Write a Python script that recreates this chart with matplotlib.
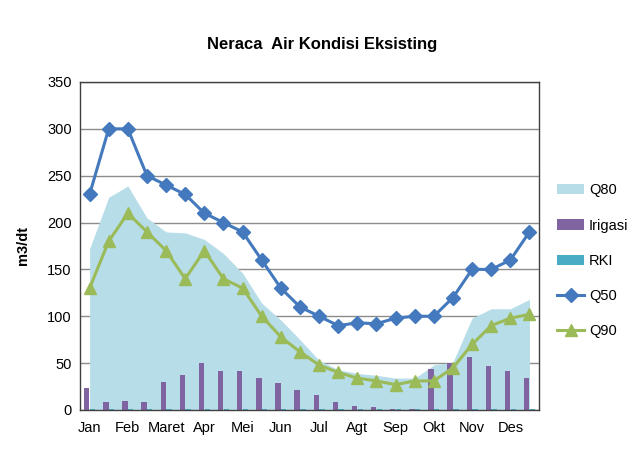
import matplotlib.pyplot as plt
import numpy as np

plt.rcParams['font.family'] = ['Liberation Sans Narrow', 'Liberation Sans', 'DejaVu Sans']

months = ["Jan", "Feb", "Maret", "Apr", "Mei", "Jun", "Jul", "Agt", "Sep", "Okt", "Nov", "Des"]

# half-monthly values (m3/dt)
q50 = [230, 300, 300, 250, 240, 230, 210, 200, 190, 160, 130, 110,
       100, 90, 93, 92, 98, 100, 100, 120, 150, 150, 160, 190]
q90 = [130, 180, 210, 190, 170, 140, 170, 140, 130, 100, 78, 62,
       48, 40, 34, 31, 27, 31, 31, 45, 70, 90, 98, 102]
q80 = [172, 227, 239, 205, 190, 189, 182, 167, 146, 114, 96, 75,
       53, 43, 39, 37, 34, 34, 48, 51, 98, 108, 108, 118]
irigasi = [23, 8, 10, 8, 30, 37, 50, 42, 42, 34, 29, 21,
           16, 9, 4, 3, 1, 1, 44, 50, 57, 47, 42, 34]
rki = [1.5] * 24

x = np.arange(len(q50))

fig = plt.figure(figsize=(6.32, 4.59), dpi=100)
ax = fig.add_axes([0.1266, 0.1068, 0.7263, 0.7146])

h80 = ax.fill_between(x, q80, color='#B7DDE8', lw=0, label='Q80', zorder=1)
hir = ax.bar(x - 0.15, irigasi, width=0.28, color='#8064A2', label='Irigasi', zorder=2)
hrk = ax.bar(x + 0.15, rki, width=0.28, color='#4BACC6', label='RKI', zorder=2)
h50, = ax.plot(x, q50, color='#4479BD', lw=2.2, marker='D', ms=7, label='Q50', zorder=4)
h90, = ax.plot(x, q90, color='#9BBB59', lw=2.2, marker='^', ms=8, label='Q90', zorder=3)

ax.set_xlim(-0.5, 23.5)
ax.set_ylim(0, 350)
ax.set_yticks(range(0, 351, 50))
ax.set_xticks(x[::2])
ax.set_xticklabels(months, fontsize=10.5)
ax.tick_params(axis='y', labelsize=10.5, length=0, pad=6)
ax.tick_params(axis='x', length=0, pad=8)
ax.yaxis.grid(True, color='#8C8C8C', lw=1, zorder=0)
ax.set_axisbelow(True)
for s in ax.spines.values():
    s.set_color('#404040')
    s.set_linewidth(1)

ax.set_ylabel('m3/dt', fontsize=10.5, fontweight='bold', labelpad=12)
fig.text(0.51, 0.902, 'Neraca  Air Kondisi Eksisting', ha='center', va='center',
         fontsize=12, fontweight='bold')

ax.legend([h80, hir, hrk, h50, h90], ['Q80', 'Irigasi', 'RKI', 'Q50', 'Q90'],
          loc='center left', bbox_to_anchor=(1.01, 0.455), frameon=False,
          fontsize=10.5, labelspacing=1.45, handlelength=1.9, handletextpad=0.3)

fig.savefig('out.png', dpi=100)
